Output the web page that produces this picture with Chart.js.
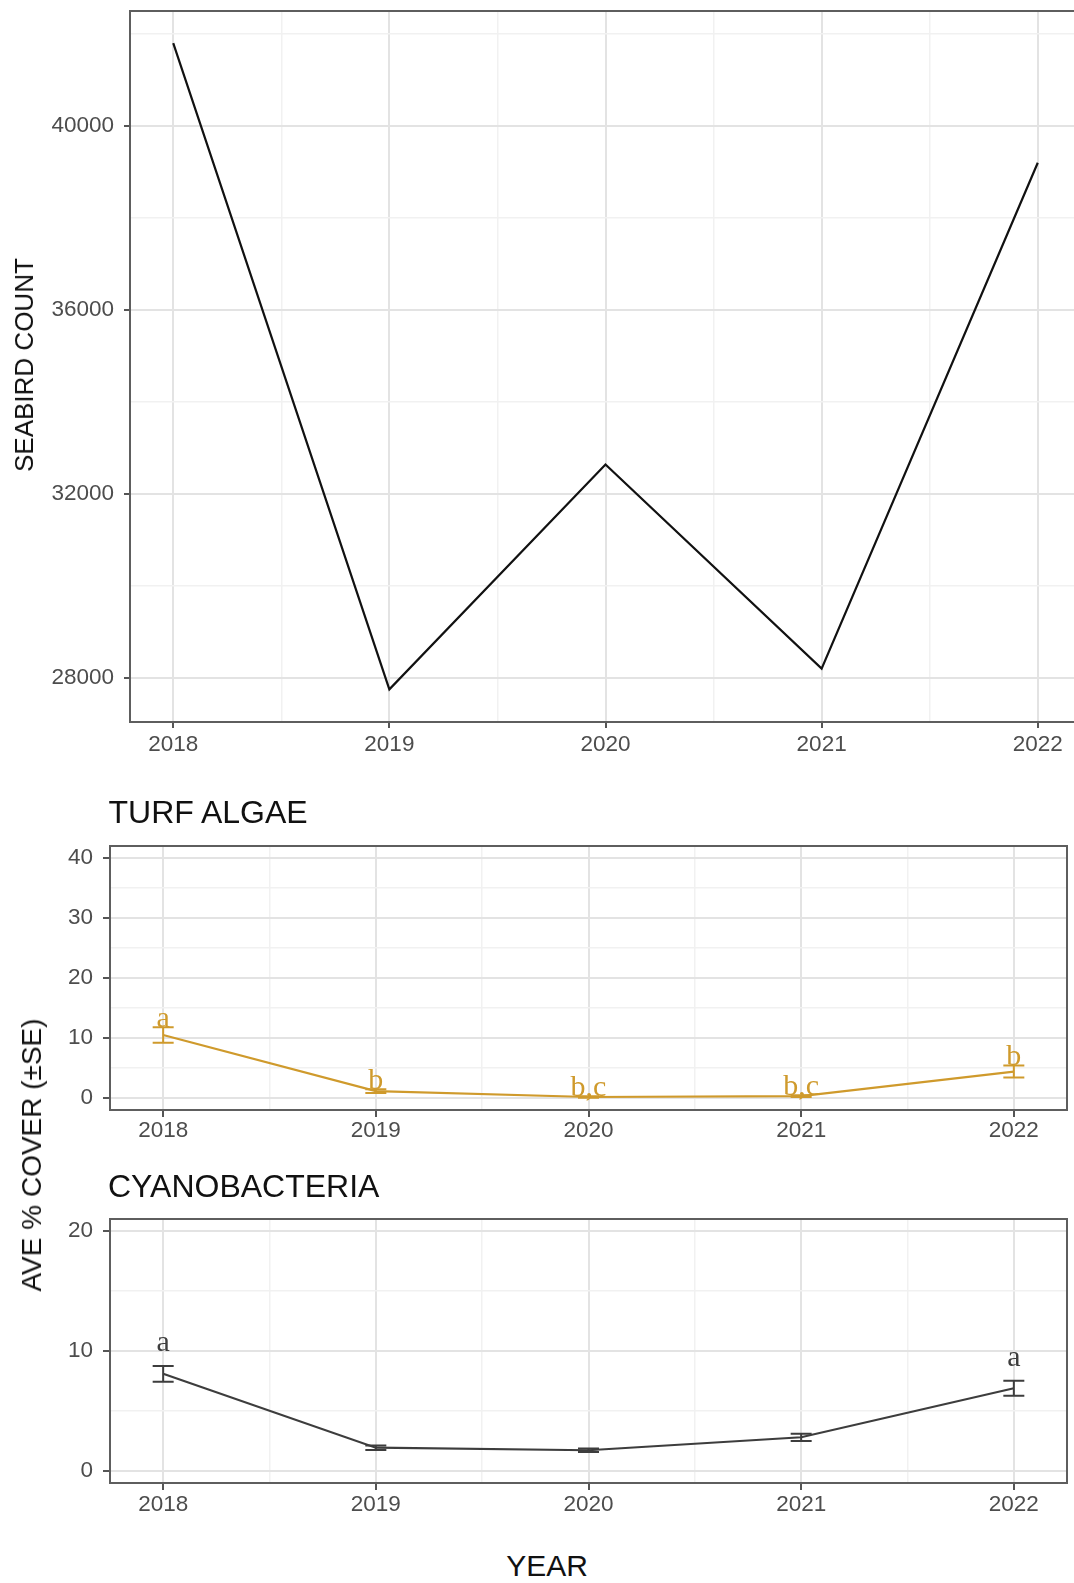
<!DOCTYPE html>
<html>
<head>
<meta charset="utf-8">
<title>Seabird count, turf algae and cyanobacteria cover, 2018–2022</title>
<script src="https://cdn.jsdelivr.net/npm/chart.js@4.4.1/dist/chart.umd.min.js"></script>
<style>
  html, body { margin: 0; padding: 0; background: #fff; }
  body { width: 1074px; height: 1583px; position: relative; overflow: hidden;
         font-family: "Liberation Sans", Arial, Helvetica, sans-serif; }
  .wrap { position: absolute; left: 0; overflow: hidden; }
  canvas { display: block; }
  .t { position: absolute; white-space: nowrap; color: #111; line-height: 1; }
  .rot { transform: translate(-50%, -50%) rotate(-90deg); }
</style>
</head>
<body>

<div class="wrap" style="top:0;width:1074px;height:770px">
  <canvas id="seabird" width="1120" height="770" style="width:1120px;height:770px"></canvas>
</div>
<div class="wrap" style="top:780px;width:1074px;height:380px">
  <canvas id="turf" width="1074" height="380" style="width:1074px;height:380px"></canvas>
</div>
<div class="wrap" style="top:1160px;width:1074px;height:380px">
  <canvas id="cyano" width="1074" height="380" style="width:1074px;height:380px"></canvas>
</div>

<div class="t rot" style="left:24px;top:365px;font-size:26px">SEABIRD COUNT</div>
<div class="t" style="left:108.5px;top:796.4px;font-size:32px">TURF ALGAE</div>
<div class="t" style="left:108px;top:1170.4px;font-size:32px">CYANOBACTERIA</div>
<div class="t rot" style="left:31.5px;top:1155px;font-size:28px">AVE % COVER (±SE)</div>
<div class="t" style="left:547px;top:1551.3px;font-size:30px;transform:translateX(-50%)">YEAR</div>

<script>
// ---- data ----
const years = [2018, 2019, 2020, 2021, 2022];
const yearMinor = [2018.5, 2019.5, 2020.5, 2021.5];

const seabirdCount = [41800, 27750, 32640, 28200, 39200];
const seabirdTicks = [28000, 32000, 36000, 40000];
const seabirdMinor = [30000, 34000, 38000, 42000];

const turfMean = [10.5, 1.15, 0.17, 0.3, 4.4];
const turfSE = [1.3, 0.3, 0.12, 0.15, 1.0];
const turfLetters = ['a', 'b', 'b,c', 'b,c', 'b'];
const turfTicks = [0, 10, 20, 30, 40];
const turfMinor = [5, 15, 25, 35];

const cyanoMean = [8.1, 1.94, 1.73, 2.81, 6.9];
const cyanoSE = [0.66, 0.18, 0.15, 0.3, 0.62];
const cyanoLetters = ['a', '', '', '', 'a'];
const cyanoTicks = [0, 10, 20];
const cyanoMinor = [5, 15];

// ---- styling ----
Chart.defaults.font.family = '"Liberation Sans", Arial, Helvetica, sans-serif';
Chart.defaults.color = '#4d4d4d';

const GRID_MAJOR = '#e3e3e3';
const GRID_MINOR = '#f1f1f1';
const FRAME = '#5e5e5e';
const TICK_MARK = '#555555';
const GOLD = '#CF9A2C';
const DARK = '#3d3d3d';
const TICK_FONT = { size: 22.5 };

const has = (list, v) => list.some(t => Math.abs(t - v) < 1e-9);
const toTicks = list => list.slice().sort((a, b) => a - b).map(v => ({ value: v }));

function axisPair(o) {
  return {
    x: {
      type: 'linear', min: o.xMin, max: o.xMax,
      afterBuildTicks: a => { a.ticks = toTicks(years.concat(yearMinor)); },
      afterFit: a => { a.height = o.xHeight; a.paddingLeft = 0; a.paddingRight = 0; },
      border: { display: false },
      grid: {
        color: c => (c.tick && has(years, c.tick.value)) ? GRID_MAJOR : GRID_MINOR,
        lineWidth: c => (c.tick && has(years, c.tick.value)) ? 2 : 1.5,
        tickColor: c => (c.tick && has(years, c.tick.value)) ? TICK_MARK : 'rgba(0,0,0,0)',
        tickWidth: 2,
        tickLength: o.tickLen,
        drawTicks: true
      },
      ticks: {
        autoSkip: false, maxRotation: 0, minRotation: 0, includeBounds: false,
        padding: o.xPad, font: TICK_FONT, color: '#4d4d4d',
        callback: v => has(years, v) ? String(v) : ''
      }
    },
    y: {
      type: 'linear', min: o.yMin, max: o.yMax,
      afterBuildTicks: a => { a.ticks = toTicks(o.yTicks.concat(o.yMinor)); },
      afterFit: a => { a.width = o.yWidth; a.paddingTop = 0; a.paddingBottom = 0; },
      border: { display: false },
      grid: {
        color: c => (c.tick && has(o.yTicks, c.tick.value)) ? GRID_MAJOR : GRID_MINOR,
        lineWidth: c => (c.tick && has(o.yTicks, c.tick.value)) ? 2 : 1.5,
        tickColor: c => (c.tick && has(o.yTicks, c.tick.value)) ? TICK_MARK : 'rgba(0,0,0,0)',
        tickWidth: 2,
        tickLength: o.tickLen,
        drawTicks: true
      },
      ticks: {
        autoSkip: false, includeBounds: false,
        padding: o.yPad, font: TICK_FONT, color: '#4d4d4d',
        callback: v => has(o.yTicks, v) ? String(v) : ''
      }
    }
  };
}

// Panel frame, error bars (mean ± SE) and group letters
function decor(cfg) {
  return {
    id: 'decor',
    afterDatasetsDraw(chart) {
      if (!cfg.se) return;
      const { ctx, scales: { x, y } } = chart;
      const mean = cfg.mean;
      ctx.save();
      ctx.strokeStyle = cfg.color;
      ctx.lineWidth = 2;
      const half = 10.5;
      mean.forEach((m, i) => {
        const px = x.getPixelForValue(years[i]);
        const top = y.getPixelForValue(m + cfg.se[i]);
        const bot = y.getPixelForValue(m - cfg.se[i]);
        ctx.beginPath();
        ctx.moveTo(px, top); ctx.lineTo(px, bot);
        ctx.moveTo(px - half, top); ctx.lineTo(px + half, top);
        ctx.moveTo(px - half, bot); ctx.lineTo(px + half, bot);
        ctx.stroke();
      });
      ctx.fillStyle = cfg.color;
      ctx.font = '30px "Liberation Serif", "DejaVu Serif", serif';
      ctx.textAlign = 'center';
      ctx.textBaseline = 'alphabetic';
      cfg.letters.forEach((txt, i) => {
        if (!txt) return;
        const px = x.getPixelForValue(years[i]);
        const py = y.getPixelForValue(mean[i] + cfg.se[i] + cfg.letterOffset);
        ctx.fillText(txt, px, py);
      });
      ctx.restore();
    },
    afterDraw(chart) {
      const { ctx, chartArea: a } = chart;
      ctx.save();
      ctx.strokeStyle = FRAME;
      ctx.lineWidth = 2;
      ctx.strokeRect(a.left, a.top, a.right - a.left, a.bottom - a.top);
      ctx.restore();
    }
  };
}

function baseOptions(scales, padding) {
  return {
    responsive: false,
    animation: false,
    devicePixelRatio: 1,
    layout: { padding },
    plugins: { legend: { display: false }, tooltip: { enabled: false }, title: { display: false } },
    elements: { point: { radius: 0 }, line: { tension: 0 } },
    scales
  };
}

// Seabird count
new Chart(document.getElementById('seabird'), {
  type: 'line',
  data: {
    datasets: [{
      data: years.map((yr, i) => ({ x: yr, y: seabirdCount[i] })),
      borderColor: '#111111', borderWidth: 2.2, borderJoinStyle: 'miter', fill: false
    }]
  },
  options: baseOptions(axisPair({
    xMin: 2017.8, xMax: 2022.2, xHeight: 48, tickLen: 6, xPad: 3.5,
    yMin: 27040, yMax: 42500, yTicks: seabirdTicks, yMinor: seabirdMinor, yWidth: 130, yPad: 10
  }), { top: 11, right: 39, left: 0, bottom: 0 }),
  plugins: [decor({})]
});

// Turf algae cover
new Chart(document.getElementById('turf'), {
  type: 'line',
  data: {
    datasets: [{
      data: years.map((yr, i) => ({ x: yr, y: turfMean[i] })),
      borderColor: GOLD, borderWidth: 2.2, fill: false
    }]
  },
  options: baseOptions(axisPair({
    xMin: 2017.75, xMax: 2022.25, xHeight: 50, tickLen: 7, xPad: 0.5,
    yMin: -2, yMax: 42, yTicks: turfTicks, yMinor: turfMinor, yWidth: 110, yPad: 10
  }), { top: 66, right: 7, left: 0, bottom: 0 }),
  plugins: [decor({ mean: turfMean, se: turfSE, letters: turfLetters, color: GOLD, letterOffset: 0.1 })]
});

// Cyanobacteria cover
new Chart(document.getElementById('cyano'), {
  type: 'line',
  data: {
    datasets: [{
      data: years.map((yr, i) => ({ x: yr, y: cyanoMean[i] })),
      borderColor: DARK, borderWidth: 2.2, fill: false
    }]
  },
  options: baseOptions(axisPair({
    xMin: 2017.75, xMax: 2022.25, xHeight: 57, tickLen: 7, xPad: 1,
    yMin: -1, yMax: 21, yTicks: cyanoTicks, yMinor: cyanoMinor, yWidth: 110, yPad: 10
  }), { top: 59, right: 7, left: 0, bottom: 0 }),
  plugins: [decor({ mean: cyanoMean, se: cyanoSE, letters: cyanoLetters, color: DARK, letterOffset: 1.2 })]
});
</script>
</body>
</html>
